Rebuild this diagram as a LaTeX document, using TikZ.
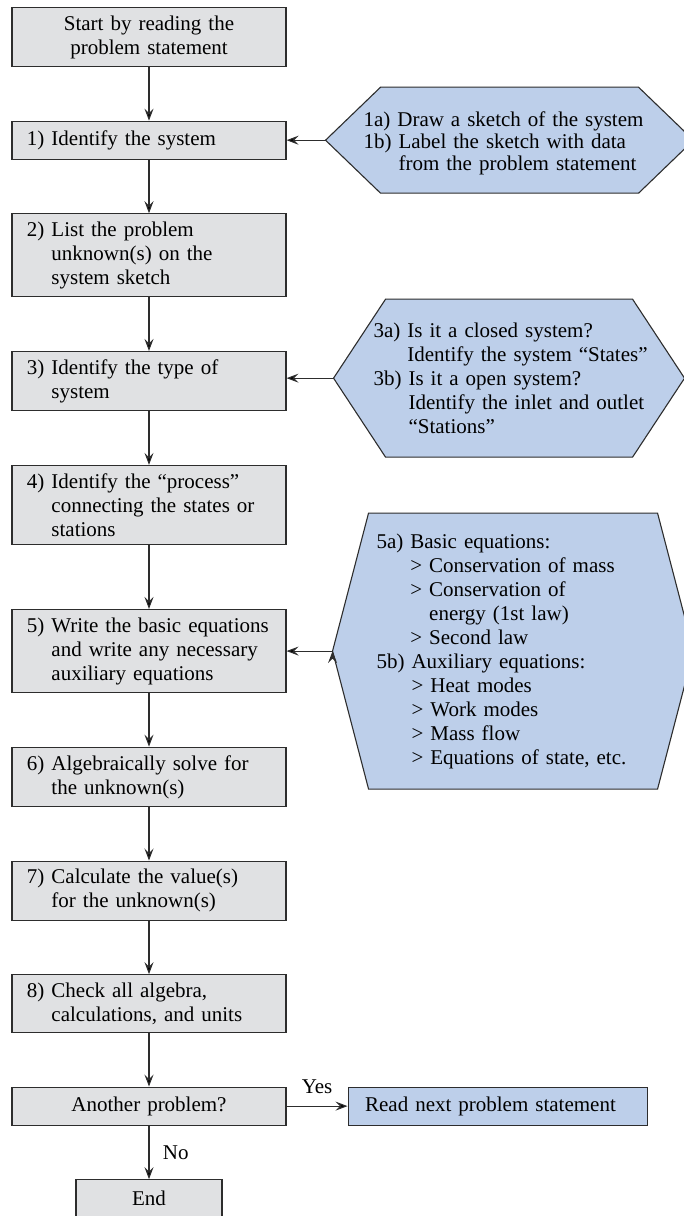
\documentclass[tikz,border=0pt]{standalone}
\usepackage{fontspec}
\setmainfont{Liberation Serif}
\usetikzlibrary{positioning,arrows.meta,backgrounds}
\definecolor{boxgray}{RGB}{224,225,227}
\definecolor{auxblue}{RGB}{189,207,234}
\definecolor{inkgray}{RGB}{45,45,45}
% blue hexagon behind a side note: node, slant, half height, top edge
\newcommand{\hexback}[4]{%
  \filldraw[draw=inkgray,fill=auxblue,line width=1.1pt]
    (#1.west) -- ++(#2,#3) -- ++(#4,0) -- ++(#2,-#3)
    -- ++(-#2,-#3) -- ++(-#4,0) -- cycle;}

\begin{document}
\begin{tikzpicture}[x=1pt,y=1pt,node distance=53.5pt,
    >={Stealth[length=12pt,width=9pt,inset=4.5pt]},
    every node/.style={font=\fontsize{21}{24}\selectfont},
    stepbox/.style={draw=inkgray,fill=boxgray,line width=1.1pt,minimum width=274pt,
      minimum height=38pt,text width=244pt,inner xsep=15pt,inner ysep=8pt,align=left},
    auxbox/.style={outer sep=0pt,inner ysep=0pt,text width=300pt,align=left},
    flow/.style={->,draw=inkgray,line width=1.1pt}]
    \useasboundingbox (0,0) rectangle (683,-1216);
    % main column
    \node[stepbox,align=center,anchor=north] (st_0) at (149,-7) {Start by reading the\\problem statement};
    \node[stepbox] (st_1) [below=of st_0] {1)~Identify the system};
    \node[stepbox] (st_2) [below=of st_1] {2)~List the problem\\\hphantom{2)~}unknown(s) on the\\\hphantom{2)~}system sketch};
    \node[stepbox] (st_3) [below=of st_2] {3)~Identify the type of\\\hphantom{3)~}system};
    \node[stepbox] (st_4) [below=of st_3] {4)~Identify the “process”\\\hphantom{4)~}connecting the states or\\\hphantom{4)~}stations};
    \node[stepbox] (st_5) [below=64pt of st_4] {5)~Write the basic equations\\\hphantom{5)~}and write any necessary\\\hphantom{5)~}auxiliary equations};
    \node[stepbox] (st_6) [below=of st_5] {6)~Algebraically solve for\\\hphantom{6)~}the unknown(s)};
    \node[stepbox] (st_7) [below=of st_6] {7)~Calculate the value(s)\\\hphantom{7)~}for the unknown(s)};
    \node[stepbox] (st_8) [below=of st_7] {8)~Check all algebra,\\\hphantom{8)~}calculations, and units};
    \node[stepbox,align=center] (more) [below=of st_8] {Another problem?};
    \node[stepbox,align=center,minimum width=146pt,text width=116pt] (stop) [below=of more] {End};
    \node[stepbox,fill=auxblue,minimum width=299pt,text width=265pt,inner xsep=17pt] (next) [right=61pt of more] {Read next problem statement};
    % side notes, the west end is the tip of the hexagon
    \node[auxbox,inner xsep=38pt,font=\fontsize{21}{22}\selectfont,yshift=-3pt] (aux_1) [right=39pt of st_1]
      {1a)~Draw a sketch of the system\\1b)~Label the sketch with data\\\hphantom{1b)~}from the problem statement};
    \node[auxbox,inner xsep=40pt,yshift=3pt] (aux_3) [right=47pt of st_3]
      {3a)~Is it a closed system?\\\hphantom{3a)~}Identify the system “States”\\3b)~Is it a open system?\\\hphantom{3b)~}Identify the inlet and outlet\\\hphantom{3b)~}“Stations”};
    \node[auxbox,inner xsep=44pt] (aux_5) [right=46pt of st_5]
      {5a)~Basic equations:\\\hphantom{5a)~}>~Conservation of mass\\\hphantom{5a)~}>~Conservation of\\\hphantom{5a)~>~}energy (1st law)\\\hphantom{5a)~}>~Second law\\5b)~Auxiliary equations:\\\hphantom{5b)~}>~Heat modes\\\hphantom{5b)~}>~Work modes\\\hphantom{5b)~}>~Mass flow\\\hphantom{5b)~}>~Equations of state, etc.};
    \coordinate (tip_1) at ([yshift=3pt]aux_1.west);
    \coordinate (tip_3) at (aux_3.west);
    \coordinate (tip_5) at (aux_5.west);
    \begin{scope}[on background layer]
        \hexback{tip_1}{55}{53}{258}
        \hexback{tip_3}{52}{79}{247}
        \hexback{tip_5}{36}{138}{289}
    \end{scope}
    \path[flow]
        (st_0) edge (st_1)
        (st_1) edge (st_2)
        (st_2) edge (st_3)
        (st_3) edge (st_4)
        (st_4) edge (st_5)
        (st_5) edge (st_6)
        (st_6) edge (st_7)
        (st_7) edge (st_8)
        (st_8) edge (more)
        (more) edge node[above=9pt] {Yes} (next)
        (more) edge node[right=10pt] {No} (stop)
        (tip_1) edge (tip_1 -| st_1.east)
        (tip_3) edge (tip_3 -| st_3.east)
        (tip_5) edge (tip_5 -| st_5.east);
\end{tikzpicture}
\end{document}
